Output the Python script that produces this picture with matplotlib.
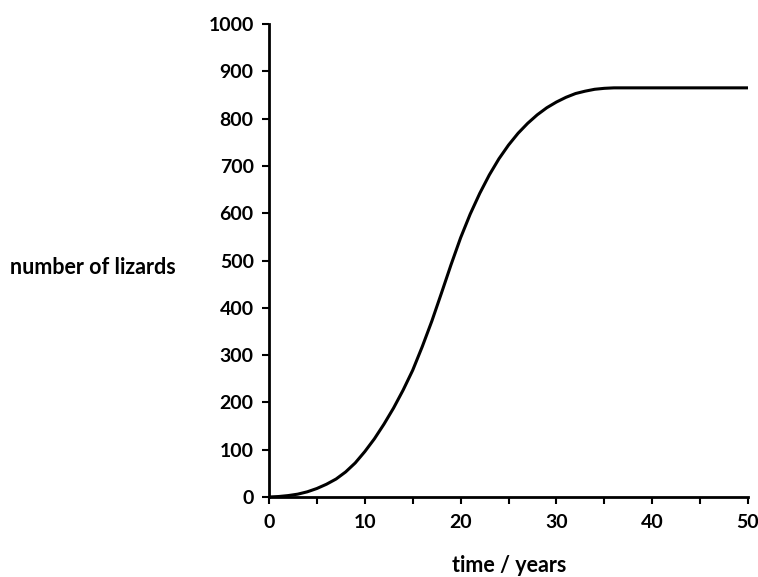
import matplotlib
matplotlib.use("Agg")
import matplotlib.pyplot as plt
from matplotlib.ticker import MultipleLocator

# Lizard population over time (years, number of lizards)
years = [0, 1, 2, 3, 4, 5, 6, 7, 8, 9, 10, 11, 12, 13, 14, 15, 16, 17, 18, 19,
         20, 21, 22, 23, 24, 25, 26, 27, 28, 29, 30, 31, 32, 33, 34, 35, 36,
         40, 45, 50]
lizards = [0, 1, 3, 6, 11, 18, 27, 38, 53, 72, 96, 123, 154, 188, 226, 268,
           318, 372, 431, 491, 548, 598, 642, 681, 715, 744, 769, 790, 808,
           823, 835, 845, 853, 858, 862, 864, 865, 865, 865, 865]

x_ticks = [0, 10, 20, 30, 40, 50]
y_ticks = [0, 100, 200, 300, 400, 500, 600, 700, 800, 900, 1000]

plt.rcParams['font.family'] = ['Lato', 'DejaVu Sans']

fig = plt.figure(figsize=(7.58, 5.77), dpi=100)
ax = fig.add_axes([269 / 758, 80 / 577, 479 / 758, 473 / 577])

ax.plot(years, lizards, color="black", lw=2.2, solid_joinstyle="round")

ax.set_xlim(0, 50)
ax.set_ylim(0, 1000)
ax.set_xticks(x_ticks)
ax.set_yticks(y_ticks)
ax.xaxis.set_minor_locator(MultipleLocator(5))

for side in ("top", "right"):
    ax.spines[side].set_visible(False)
for side in ("left", "bottom"):
    ax.spines[side].set_linewidth(2.0)
    ax.spines[side].set_color("black")

ax.tick_params(axis="both", which="both", direction="out", length=5,
               width=1.5, colors="black", labelsize=14)
ax.tick_params(axis="y", pad=6)
ax.tick_params(axis="x", pad=7)
for lab in ax.get_xticklabels() + ax.get_yticklabels():
    lab.set_fontweight("bold")

fig.text(10 / 758, 1 - 267 / 577, "number of lizards", ha="left",
         va="center", fontsize=15.5, fontweight="bold")
fig.text(509 / 758, 1 - 566 / 577, "time / years", ha="center",
         va="center", fontsize=15.5, fontweight="bold")

fig.savefig("out.png", dpi=100)
